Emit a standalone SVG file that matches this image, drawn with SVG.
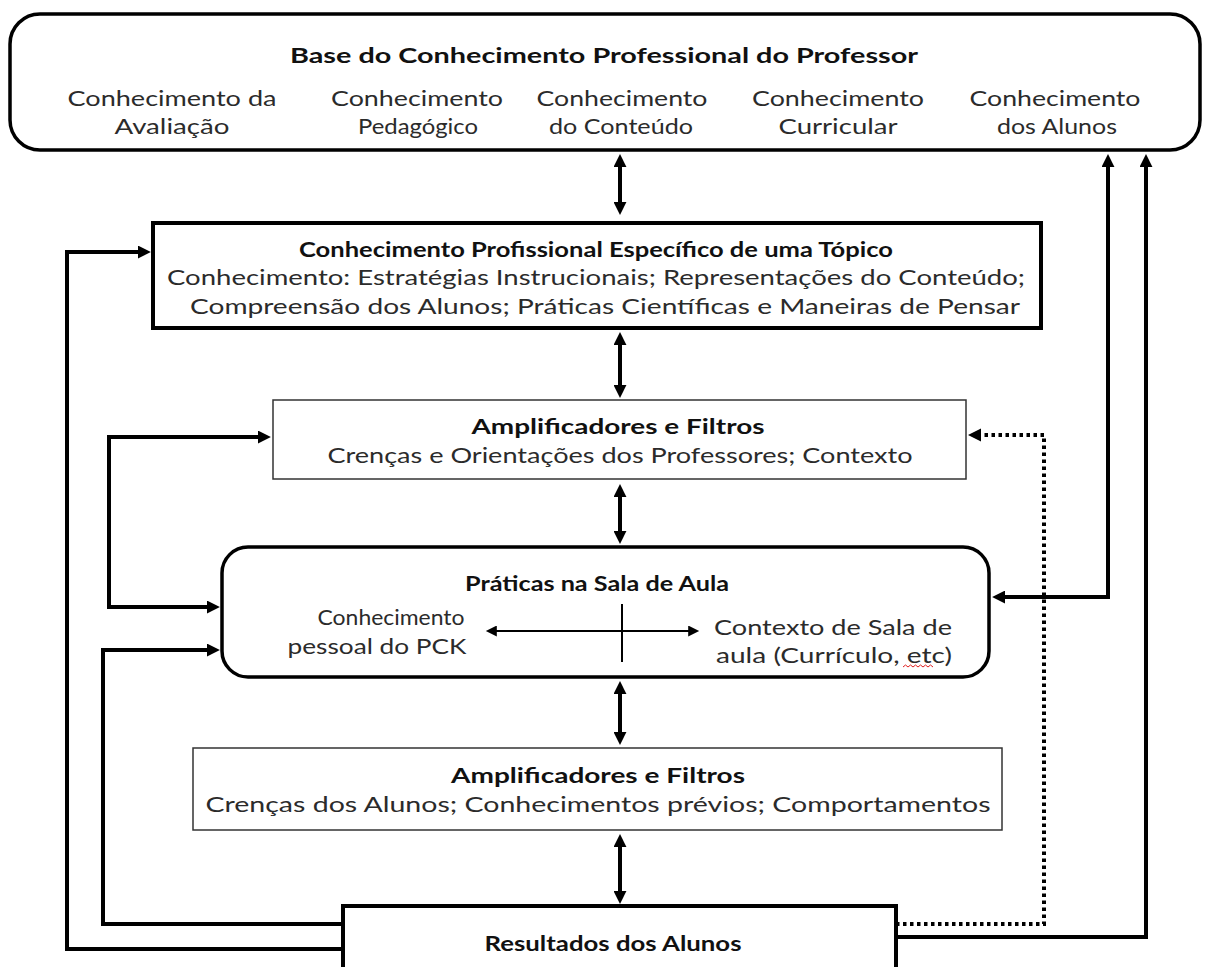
<svg xmlns="http://www.w3.org/2000/svg" width="1206" height="967" viewBox="0 0 1206 967">
  <style>
    .node-thick { fill: #ffffff; stroke: #000000; stroke-width: 4; }
    .node-round { fill: #ffffff; stroke: #000000; stroke-width: 3.5; }
    .node-thin { fill: #ffffff; stroke: #333333; stroke-width: 1.5; }
    .title { font-family: Lato, "Liberation Sans", sans-serif; font-weight: bold; font-size: 20px; fill: #111111; text-anchor: middle; }
    .body { font-family: Lato, "Liberation Sans", sans-serif; font-size: 21.5px; fill: #2b2b2b; text-anchor: middle; }
    .wire { fill: none; stroke: #000000; stroke-width: 4; stroke-linejoin: miter; }
    .wire-thin { fill: none; stroke: #000000; stroke-width: 2; }
    .wire-dot { fill: none; stroke: #000000; stroke-width: 4; stroke-dasharray: 3.5 3.5; }
  </style>
  <defs>
    <marker id="head" viewBox="0 0 10 10" refX="7" refY="5" markerWidth="13" markerHeight="13" markerUnits="userSpaceOnUse" orient="auto-start-reverse">
      <path d="M0,0 L10,5 L0,10 z" fill="#000000"/>
    </marker>
    <marker id="head-small" viewBox="0 0 10 10" refX="8" refY="5" markerWidth="12" markerHeight="11" markerUnits="userSpaceOnUse" orient="auto-start-reverse">
      <path d="M0,0 L10,5 L0,10 z" fill="#000000"/>
    </marker>
  </defs>

  <rect width="1206" height="967" fill="#ffffff"/>

  <!-- connectors -->
  <g id="connectors">
    <!-- vertical double arrows along the centre spine -->
    <path class="wire" d="M620,158 L620,211" marker-start="url(#head)" marker-end="url(#head)"/>
    <path class="wire" d="M620,336 L620,394" marker-start="url(#head)" marker-end="url(#head)"/>
    <path class="wire" d="M620,488 L620,540" marker-start="url(#head)" marker-end="url(#head)"/>
    <path class="wire" d="M620,685 L620,741" marker-start="url(#head)" marker-end="url(#head)"/>
    <path class="wire" d="M620,838 L620,900" marker-start="url(#head)" marker-end="url(#head)"/>

    <!-- feedback loops on the left -->
    <path class="wire" d="M343,949 L67,949 L67,252 L147,252" marker-end="url(#head)"/>
    <path class="wire" d="M343,924 L103,924 L103,650 L216,650" marker-end="url(#head)"/>
    <path class="wire" d="M267,437 L109,437 L109,607 L216,607" marker-start="url(#head)" marker-end="url(#head)"/>

    <!-- links on the right -->
    <path class="wire" d="M996,597 L1108,597 L1108,158" marker-start="url(#head)" marker-end="url(#head)"/>
    <path class="wire" d="M896,937 L1146,937 L1146,158" marker-end="url(#head)"/>
    <path class="wire-dot" d="M896,924 L1044,924 L1044,435 L977,435"/>
    <path d="M968,435 L981,428.5 L981,441.5 z" fill="#000000"/>
  </g>

  <!-- base of professional knowledge -->
  <g id="base">
    <rect class="node-round" x="10" y="14" width="1190" height="136" rx="30" ry="30"/>
    <text class="title" x="604" y="63" textLength="628" lengthAdjust="spacingAndGlyphs">Base do Conhecimento Professional do Professor</text>
    <text class="body" x="172" y="106" textLength="209" lengthAdjust="spacingAndGlyphs">Conhecimento da</text>
    <text class="body" x="172" y="134" textLength="115" lengthAdjust="spacingAndGlyphs">Avaliação</text>
    <text class="body" x="417" y="106" textLength="172" lengthAdjust="spacingAndGlyphs">Conhecimento</text>
    <text class="body" x="418" y="134" textLength="120" lengthAdjust="spacingAndGlyphs">Pedagógico</text>
    <text class="body" x="622" y="106" textLength="171" lengthAdjust="spacingAndGlyphs">Conhecimento</text>
    <text class="body" x="621" y="134" textLength="144" lengthAdjust="spacingAndGlyphs">do Conteúdo</text>
    <text class="body" x="838" y="106" textLength="172" lengthAdjust="spacingAndGlyphs">Conhecimento</text>
    <text class="body" x="838" y="134" textLength="119" lengthAdjust="spacingAndGlyphs">Curricular</text>
    <text class="body" x="1055" y="106" textLength="171" lengthAdjust="spacingAndGlyphs">Conhecimento</text>
    <text class="body" x="1057" y="134" textLength="120" lengthAdjust="spacingAndGlyphs">dos Alunos</text>
  </g>

  <!-- topic-specific professional knowledge -->
  <g id="topic-knowledge">
    <rect class="node-thick" x="153" y="223" width="888" height="105"/>
    <text class="title" x="596" y="257" textLength="594" lengthAdjust="spacingAndGlyphs">Conhecimento Profissional Específico de uma Tópico</text>
    <text class="body" x="596" y="285" textLength="858" lengthAdjust="spacingAndGlyphs">Conhecimento: Estratégias Instrucionais; Representações do Conteúdo;</text>
    <text class="body" x="605" y="314" textLength="830" lengthAdjust="spacingAndGlyphs">Compreensão dos Alunos; Práticas Científicas e Maneiras de Pensar</text>
  </g>

  <!-- teacher amplifiers and filters -->
  <g id="teacher-filters">
    <rect class="node-thin" x="273" y="400" width="693" height="79"/>
    <text class="title" x="618" y="434" textLength="293" lengthAdjust="spacingAndGlyphs">Amplificadores e Filtros</text>
    <text class="body" x="620" y="463" textLength="585" lengthAdjust="spacingAndGlyphs">Crenças e Orientações dos Professores; Contexto</text>
  </g>

  <!-- classroom practice -->
  <g id="classroom-practice">
    <rect class="node-round" x="222" y="547" width="767" height="130" rx="26" ry="26"/>
    <text class="title" x="597" y="591" textLength="264" lengthAdjust="spacingAndGlyphs">Práticas na Sala de Aula</text>
    <text class="body" x="391" y="625" textLength="147" lengthAdjust="spacingAndGlyphs">Conhecimento</text>
    <text class="body" x="377" y="654" textLength="179" lengthAdjust="spacingAndGlyphs">pessoal do PCK</text>
    <text class="body" x="833" y="635" textLength="238" lengthAdjust="spacingAndGlyphs">Contexto de Sala de</text>
    <text class="body" x="834" y="663" textLength="236" lengthAdjust="spacingAndGlyphs">aula (Currículo, etc)</text>
    <path d="M903,667 l2.5,-2 l2.5,2 l2.5,-2 l2.5,2 l2.5,-2 l2.5,2 l2.5,-2 l2.5,2 l2.5,-2 l2.5,2 l2.5,-2 l2.5,2" fill="none" stroke="#e02020" stroke-width="1"/>
    <!-- inner axes: personal PCK versus classroom context -->
    <path class="wire-thin" d="M488,631 L697,631" marker-start="url(#head-small)" marker-end="url(#head-small)"/>
    <path class="wire-thin" d="M622,604 L622,662"/>
  </g>

  <!-- student amplifiers and filters -->
  <g id="student-filters">
    <rect class="node-thin" x="193" y="748" width="809" height="82"/>
    <text class="title" x="598" y="783" textLength="294" lengthAdjust="spacingAndGlyphs">Amplificadores e Filtros</text>
    <text class="body" x="598" y="812" textLength="785" lengthAdjust="spacingAndGlyphs">Crenças dos Alunos; Conhecimentos prévios; Comportamentos</text>
  </g>

  <!-- student outcomes -->
  <g id="student-outcomes">
    <rect class="node-thick" x="343" y="906" width="553" height="80"/>
    <text class="title" x="613" y="951" textLength="257" lengthAdjust="spacingAndGlyphs">Resultados dos Alunos</text>
  </g>
</svg>
